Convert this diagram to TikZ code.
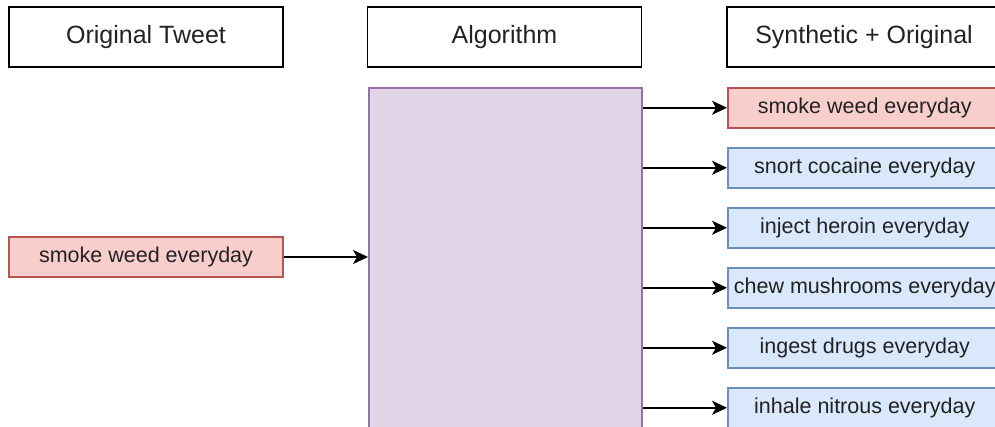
\documentclass[tikz,border=0pt]{standalone}
\usepackage{fontspec}
\setmainfont{Liberation Sans}
\usetikzlibrary{positioning,arrows.meta}

\definecolor{redfill}{HTML}{F8CECC}
\definecolor{redline}{HTML}{B85450}
\definecolor{bluefill}{HTML}{DAE8FC}
\definecolor{blueline}{HTML}{6C8EBF}
\definecolor{purplefill}{HTML}{E1D5E7}
\definecolor{purpleline}{HTML}{9673A6}
\definecolor{textgrey}{HTML}{222222}

\tikzset{
  header/.style={draw, line width=1.5pt, minimum width=274pt,
    minimum height=60pt, inner sep=0pt, text=textgrey,
    font=\fontsize{25}{30}\selectfont},
  tweet/.style={line width=1.5pt, minimum width=274pt,
    minimum height=40pt, inner sep=0pt, text=textgrey,
    font=\fontsize{21.5}{26}\selectfont},
  original/.style={tweet, draw=redline, fill=redfill},
  synthetic/.style={tweet, draw=blueline, fill=bluefill},
  feed/.style={line width=1.6pt,
    -{Stealth[length=15pt,width=14pt,inset=4pt]}}
}

\begin{document}
\begin{tikzpicture}[x=1pt,y=-1pt,node distance=18.5pt]

  \useasboundingbox (0,0) rectangle (995,426);

  \node [header] (tweethead) at (146,37) {Original Tweet};
  \node [header] (algohead) at (504.5,37) {Algorithm};
  \node [header] (outhead) at (864,37) {Synthetic + Original};

  \node [draw=purpleline, fill=purplefill, line width=1.5pt,
         minimum width=273pt, minimum height=360pt, inner sep=0pt,
         anchor=north west] (algo) at (368,87) {};

  \node [original] (input) at (146,257) {smoke weed everyday};
  \draw [feed] (input.east) -- (input.east -| algo.west);

  \node [original, anchor=north west] (out1) at (727,87)
        {smoke weed everyday};
  \node [synthetic, below=of out1] (out2) {snort cocaine everyday};
  \node [synthetic, below=of out2] (out3) {inject heroin everyday};
  \node [synthetic, below=of out3] (out4) {chew mushrooms everyday};
  \node [synthetic, below=of out4] (out5) {ingest drugs everyday};
  \node [synthetic, below=of out5] (out6) {inhale nitrous everyday};

  \draw [feed] (out1.west -| algo.east) -- (out1.west);
  \draw [feed] (out2.west -| algo.east) -- (out2.west);
  \draw [feed] (out3.west -| algo.east) -- (out3.west);
  \draw [feed] (out4.west -| algo.east) -- (out4.west);
  \draw [feed] (out5.west -| algo.east) -- (out5.west);
  \draw [feed] (out6.west -| algo.east) -- (out6.west);

\end{tikzpicture}
\end{document}
